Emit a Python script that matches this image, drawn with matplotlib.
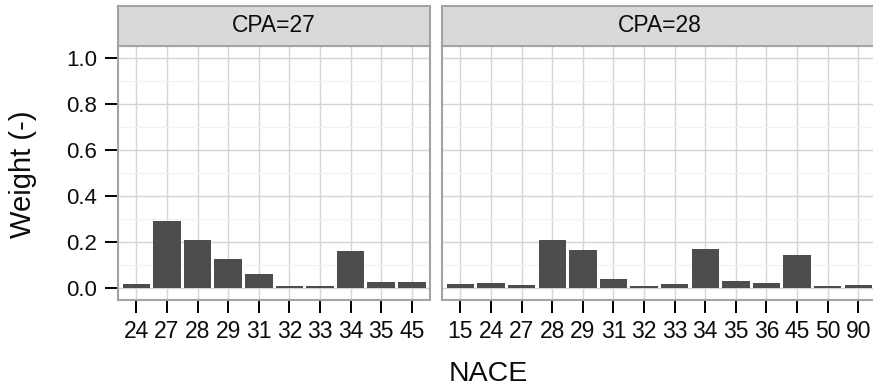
import matplotlib
matplotlib.use("Agg")
import matplotlib.pyplot as plt
from matplotlib.ticker import MultipleLocator

# Weights of NACE sectors for each CPA product group
nace_27 = ["24", "27", "28", "29", "31", "32", "33", "34", "35", "45"]
weight_27 = [0.020, 0.292, 0.210, 0.128, 0.063, 0.012, 0.012, 0.163, 0.029, 0.029]

nace_28 = ["15", "24", "27", "28", "29", "31", "32", "33", "34", "35", "36", "45", "50", "90"]
weight_28 = [0.020, 0.024, 0.016, 0.210, 0.167, 0.042, 0.012, 0.020, 0.171, 0.033,
             0.024, 0.145, 0.012, 0.016]

panel_titles = ["CPA=27", "CPA=28"]
y_ticks = [0.0, 0.2, 0.4, 0.6, 0.8, 1.0]
y_tick_labels = ["0.0", "0.2", "0.4", "0.6", "0.8", "1.0"]

W, H = 873, 388
fig = plt.figure(figsize=(W / 100, H / 100), dpi=100)
fig.patch.set_facecolor("white")

BAR = "#4d4d4d"
BORDER = "#a3a3a3"
GRID = "#d4d4d4"
GRID_MINOR = "#f3f3f3"
STRIP = "#d9d9d9"
TXT = "#0d0d0d"
SANS = ["Liberation Sans", "DejaVu Sans"]

unit = 30.6          # pixels per category (free x space)
left0 = 118.0
gap = 12.0
top_px, bottom_px = 46.0, 300.0
strip_top = 6.0

panels = [(nace_27, weight_27), (nace_28, weight_28)]
x_px = left0
for i, ((cats, vals), title) in enumerate(zip(panels, panel_titles)):
    width_px = (len(cats) - 1 + 1.2) * unit
    ax = fig.add_axes([x_px / W, 1 - bottom_px / H, width_px / W, (bottom_px - top_px) / H])
    pos = list(range(len(cats)))
    ax.bar(pos, vals, width=0.9, color=BAR, zorder=3)
    ax.set_xlim(-0.6, len(cats) - 0.4)
    ax.set_ylim(-0.05, 1.05)
    ax.set_xticks(pos)
    ax.set_xticklabels(cats, family=SANS, fontsize=16.5, color=TXT)
    ax.set_yticks(y_ticks)
    ax.yaxis.set_minor_locator(MultipleLocator(0.1))
    ax.grid(True, which="major", color=GRID, linewidth=1.0, zorder=0)
    ax.grid(True, which="minor", axis="y", color=GRID_MINOR, linewidth=0.9, zorder=0)
    ax.set_axisbelow(True)
    for sp in ax.spines.values():
        sp.set_color(BORDER)
        sp.set_linewidth(1.5)
    ax.tick_params(axis="x", length=9.5, width=1.4, color="black", pad=5)
    ax.tick_params(axis="y", which="minor", length=0)
    if i == 0:
        ax.set_yticklabels(y_tick_labels, family=SANS, fontsize=16, color=TXT)
        ax.tick_params(axis="y", which="major", length=9.5, width=1.4, color="black", pad=5.5)
    else:
        ax.tick_params(axis="y", which="major", length=0, labelleft=False)

    # facet strip
    sax = fig.add_axes([x_px / W, 1 - top_px / H, width_px / W, (top_px - strip_top) / H])
    sax.set_facecolor(STRIP)
    sax.set_xticks([])
    sax.set_yticks([])
    for sp in sax.spines.values():
        sp.set_color(BORDER)
        sp.set_linewidth(1.5)
    sax.text(0.5, 0.5, title, ha="center", va="center", family=SANS,
             fontsize=16.5, color=TXT, transform=sax.transAxes)

    x_px += width_px + gap

fig.text(23 / W, 1 - 174 / H, "Weight (-)", rotation=90, ha="center", va="center",
         family=SANS, fontsize=21, color=TXT)
fig.text(488 / W, 1 - 374 / H, "NACE", ha="center", va="center",
         family=SANS, fontsize=20.5, color=TXT)

fig.savefig("out.png", dpi=100, facecolor="white")
